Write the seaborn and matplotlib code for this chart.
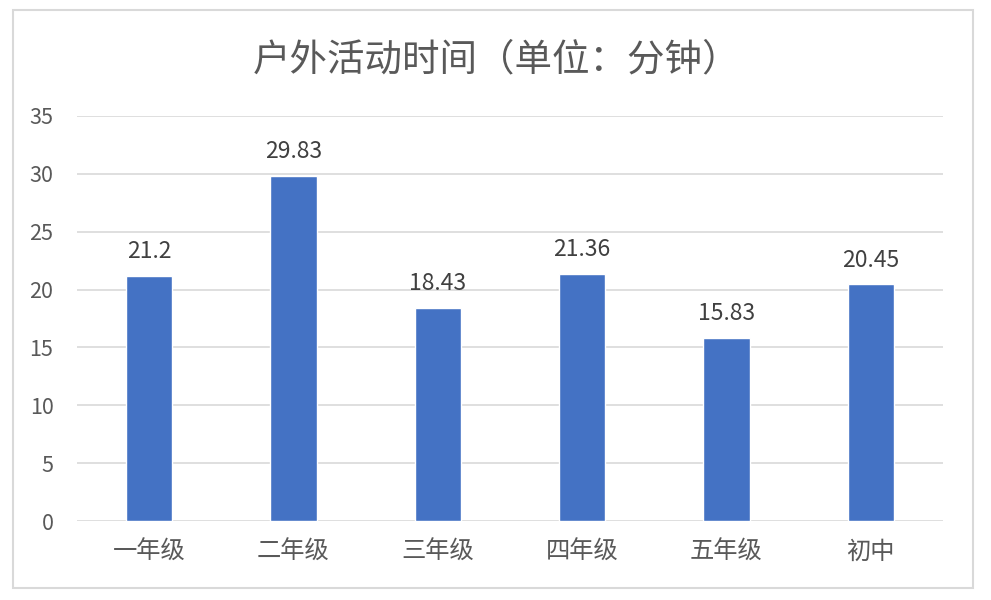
import matplotlib
matplotlib.use("Agg")
import matplotlib.pyplot as plt
import seaborn as sns
import pandas as pd
from matplotlib.patches import Rectangle

categories = ["一年级", "二年级", "三年级", "四年级", "五年级", "初中"]
values = [21.2, 29.83, 18.43, 21.36, 15.83, 20.45]
value_labels = ["21.2", "29.83", "18.43", "21.36", "15.83", "20.45"]
yticks = [0, 5, 10, 15, 20, 25, 30, 35]
title = "户外活动时间（单位：分钟）"

sns.set_theme(style="white")
plt.rcParams['font.family'] = ['Noto Sans CJK SC', 'DejaVu Sans']

df = pd.DataFrame({"cat": categories, "val": values})

fig = plt.figure(figsize=(9.91, 6.0), dpi=100)
ax = fig.add_axes([77/991, 1-521/600, (943-77)/991, (521-116)/600])

sns.barplot(data=df, x="cat", y="val", color="#4472C4", width=0.32,
            saturation=1, ax=ax, zorder=3)

ax.set_ylim(0, 35)
ax.set_yticks(yticks)
ax.set_yticklabels([str(t) for t in yticks])
ax.set_xlim(-0.5, len(categories) - 0.5)
ax.yaxis.grid(True, color="#D9D9D9", linewidth=1.2, zorder=0)
ax.xaxis.grid(False)
for s in ax.spines.values():
    s.set_visible(False)
ax.tick_params(axis="y", length=0, pad=17, labelsize=15.5, labelcolor="#595959")
ax.tick_params(axis="x", length=0, pad=13, labelsize=17.5, labelcolor="#595959")
ax.set_xlabel("")
ax.set_ylabel("")

for i, (v, lab) in enumerate(zip(values, value_labels)):
    ax.annotate(lab, (i, v), xytext=(0, 9), textcoords="offset points",
                ha="center", va="bottom", fontsize=16.5, color="#404040")

fig.text(0.501, 1-60/600, title, ha="center", va="center", fontsize=27,
         color="#595959", fontweight="light")

fig.patches.append(Rectangle((13/991, 1-588/600), (973-13)/991, (588-10)/600,
                             transform=fig.transFigure, fill=False,
                             edgecolor="#D9D9D9", linewidth=1.5))

fig.savefig("out.png", dpi=100, facecolor="white")
